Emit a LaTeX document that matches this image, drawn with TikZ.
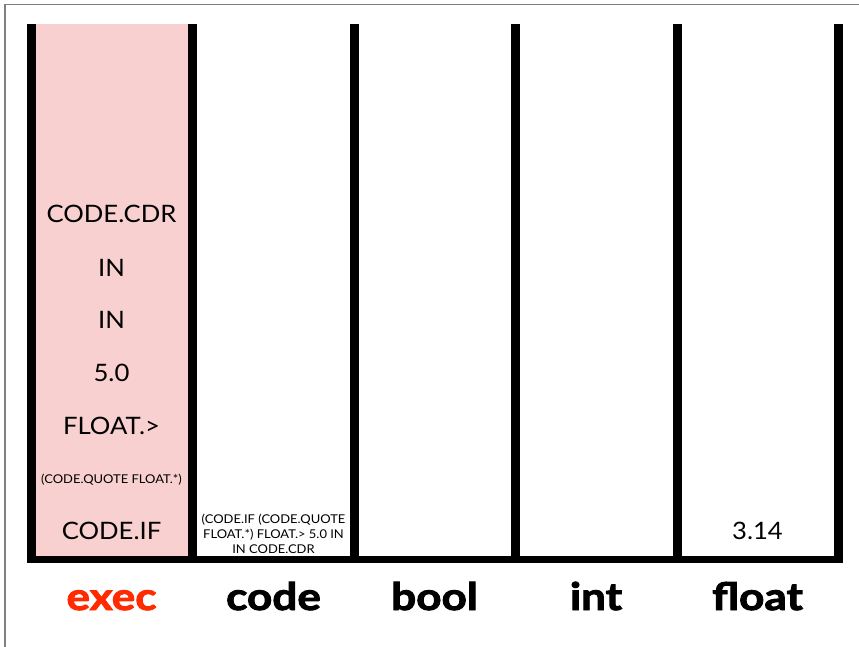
\documentclass[tikz,border=0pt]{standalone}
\usepackage{fontspec}
\setmainfont{Lato}[FakeStretch=1.07]
\newfontfamily\heavy{Lato}[FakeStretch=1.16,BoldFeatures={FakeBold=2.5}]
\definecolor{execpink}{RGB}{248,208,208}
\definecolor{execred}{RGB}{255,42,0}
\definecolor{framegray}{RGB}{128,128,128}
\begin{document}
\begin{tikzpicture}[x=1pt,y=-1pt,
  bar/.style={fill=black,draw=none},
  item/.style={font=\fontsize{24}{28}\selectfont,inner sep=0pt,anchor=center},
  smallitem/.style={font=\fontsize{12.1}{15}\selectfont,inner sep=0pt,anchor=center,align=center},
  stacklabel/.style={font=\heavy\bfseries\fontsize{38}{44}\selectfont,inner sep=0pt,anchor=base}]
\useasboundingbox (0,0) rectangle (859,647);
% page frame
\draw[framegray,line width=1.5pt] (5,647) -- (5,4.7) -- (859,4.7);
% exec stack highlight
\fill[execpink] (35,24) rectangle (188,556);
% stack walls
\foreach \x in {27,188,350,511,673,834}
  \fill[bar] (\x,24) rectangle (\x+8.5,563);
\fill[bar] (27,556) rectangle (842.5,563);
% exec stack contents
\node[item] (e1) at (111.5,214) {CODE.CDR};
\node[item] (e2) at (111.5,268) {IN};
\node[item] (e3) at (111.5,320) {IN};
\node[item] (e4) at (111.5,373) {5.0};
\node[item] (e5) at (111.5,426) {FLOAT.>};
\node[smallitem] (e6) at (111.5,480) {(CODE.QUOTE FLOAT.*)};
\node[item] (e7) at (111.5,531) {CODE.IF};
% code stack
\node[smallitem] (c1) at (273.5,534) {(CODE.IF (CODE.QUOTE\\FLOAT.*) FLOAT.> 5.0 IN\\IN CODE.CDR};
% float stack
\node[item] (f1) at (757.5,531) {3.14};
% stack names
\node[stacklabel,text=execred] (lexec) at (111.5,610) {exec};
\node[stacklabel] (lcode) at (273.5,610) {code};
\node[stacklabel] (lbool) at (434.5,610) {bool};
\node[stacklabel] (lint) at (596,610) {int};
\node[stacklabel] (lfloat) at (757.5,610) {float};
\end{tikzpicture}
\end{document}
